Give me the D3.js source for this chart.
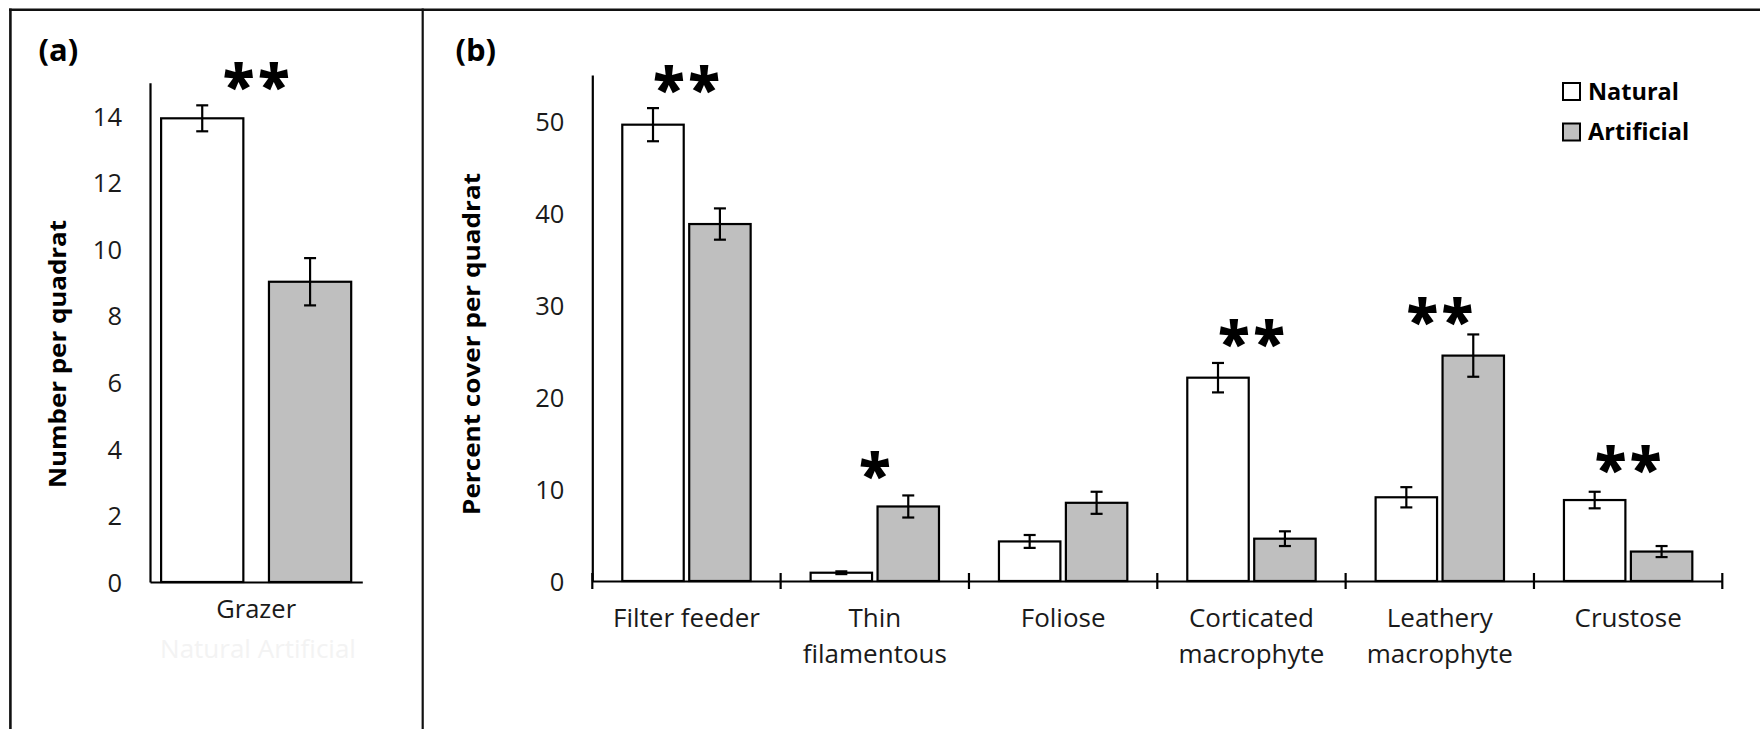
<!DOCTYPE html>
<html><head><meta charset="utf-8">
<script src="https://cdn.jsdelivr.net/npm/d3@7"></script>
<style>
html,body{margin:0;padding:0;background:#fff;}
svg{display:block;font-family:"Open Sans",sans-serif;}
</style></head><body>
<svg id="chart" width="1760" height="729"></svg>
<script>
// ---------- data ----------
const series = ["Natural", "Artificial"];

// panel (a)
const categoriesA = ["Grazer"];
const naturalA = [13.93];
const naturalErrA = [0.39];
const artificialA = [9.02];
const artificialErrA = [0.71];
const sigA = ["**"];
const sigLevelA = [15.24];
const yTicksA = [0, 2, 4, 6, 8, 10, 12, 14];
const yMaxA = 15;

// panel (b)
const categoriesB = ["Filter feeder", "Thin filamentous", "Foliose", "Corticated macrophyte", "Leathery macrophyte", "Crustose"];
const labelLinesB = [["Filter feeder"], ["Thin", "filamentous"], ["Foliose"], ["Corticated", "macrophyte"], ["Leathery", "macrophyte"], ["Crustose"]];
const naturalB = [49.6, 0.9, 4.3, 22.1, 9.1, 8.8];
const naturalErrB = [1.8, 0.15, 0.7, 1.6, 1.1, 0.9];
const artificialB = [38.8, 8.1, 8.5, 4.6, 24.5, 3.2];
const artificialErrB = [1.7, 1.2, 1.2, 0.8, 2.3, 0.6];
const sigB = ["**", "*", "", "**", "**", "**"];
const sigLevelB = [54.7, 12.66, null, 27.1, 29.4, 13.4];
const yTicksB = [0, 10, 20, 30, 40, 50];
const yMaxB = 55;

// ---------- styles ----------
const fills = {Natural: "#ffffff", Artificial: "#bfbfbf"};
const ink = "#000";

const svg = d3.select("#chart");
svg.append("rect").attr("width", 1760).attr("height", 729).attr("fill", "#fff");

// frame
const frame = svg.append("g").attr("stroke", "#111").attr("fill", "none");
frame.append("line").attr("x1", 9).attr("x2", 1760).attr("y1", 9.8).attr("y2", 9.8).attr("stroke-width", 2.6);
frame.append("line").attr("x1", 10.4).attr("x2", 10.4).attr("y1", 8.5).attr("y2", 729).attr("stroke-width", 2.6);
frame.append("line").attr("x1", 422.7).attr("x2", 422.7).attr("y1", 8.5).attr("y2", 729).attr("stroke-width", 2.2);

// panel (a) -- faint hidden legend text under the category label
svg.append("text").attr("x", 258).attr("y", 658).attr("text-anchor", "middle")
  .attr("font-size", 26).attr("fill", "#f3f3f3").text(series.join(" "));

function drawPanel(cfg) {
  const g = svg.append("g");
  const x0 = d3.scaleBand().domain(cfg.categories).range([cfg.left, cfg.right]).paddingInner(0).paddingOuter(0);
  const x1 = d3.scaleBand().domain(series).range([0, x0.bandwidth()])
    .paddingInner(cfg.padIn).paddingOuter(cfg.padOut);
  const y = d3.scaleLinear().domain([0, cfg.yMax]).range([cfg.bottom, cfg.top]);

  const rows = cfg.categories.map((c, i) => ({
    cat: c,
    vals: [
      {s: "Natural", v: cfg.natural[i], e: cfg.naturalErr[i]},
      {s: "Artificial", v: cfg.artificial[i], e: cfg.artificialErr[i]}
    ]
  }));

  // y axis
  const yAxis = d3.axisLeft(y).tickValues(cfg.yTicks).tickSize(0).tickPadding(28).tickFormat(d3.format("d"));
  const ya = g.append("g").attr("transform", `translate(${cfg.left},0)`).call(yAxis);
  ya.select(".domain").attr("stroke", ink).attr("stroke-width", 2.2);
  ya.selectAll("text").attr("font-family", "Open Sans").attr("font-size", 25.5).attr("fill", "#1a1a1a").attr("dy", "0.36em");

  // bars
  const groups = g.selectAll("g.cat").data(rows).join("g").attr("class", "cat")
    .attr("transform", d => `translate(${x0(d.cat)},0)`);
  groups.selectAll("rect").data(d => d.vals).join("rect")
    .attr("x", d => x1(d.s)).attr("width", x1.bandwidth())
    .attr("y", d => y(d.v)).attr("height", d => y(0) - y(d.v))
    .attr("fill", d => fills[d.s]).attr("stroke", ink).attr("stroke-width", 2.2);

  // error bars
  const eb = groups.selectAll("g.err").data(d => d.vals).join("g").attr("class", "err")
    .attr("stroke", ink).attr("stroke-width", 2.2);
  const cx = d => x1(d.s) + x1.bandwidth() / 2;
  eb.append("line").attr("x1", cx).attr("x2", cx)
    .attr("y1", d => y(d.v - d.e)).attr("y2", d => y(d.v + d.e));
  eb.append("line").attr("x1", d => cx(d) - 6).attr("x2", d => cx(d) + 6)
    .attr("y1", d => y(d.v + d.e)).attr("y2", d => y(d.v + d.e));
  eb.append("line").attr("x1", d => cx(d) - 6).attr("x2", d => cx(d) + 6)
    .attr("y1", d => y(d.v - d.e)).attr("y2", d => y(d.v - d.e));

  // x axis
  const xAxis = d3.axisBottom(x0).tickSize(0).tickFormat("");
  const xa = g.append("g").attr("transform", `translate(0,${y(0)})`).call(xAxis);
  xa.select(".domain").attr("stroke", ink).attr("stroke-width", 2.2);
  if (cfg.crossTicks) {
    const bounds = cfg.categories.map(c => x0(c)).concat([x0(cfg.categories[cfg.categories.length - 1]) + x0.bandwidth()]);
    xa.selectAll("line.bound").data(bounds).join("line").attr("class", "bound")
      .attr("x1", d => d).attr("x2", d => d).attr("y1", -8).attr("y2", 8)
      .attr("stroke", ink).attr("stroke-width", 2.2);
  }

  // category labels
  const lab = g.selectAll("text.catlab").data(cfg.categories).join("text").attr("class", "catlab")
    .attr("x", c => x0(c) + x0.bandwidth() / 2).attr("y", cfg.labelBaseline)
    .attr("text-anchor", "middle").attr("font-size", cfg.labelSize).attr("fill", "#1a1a1a");
  lab.selectAll("tspan").data((c, i) => cfg.labelLines[i]).join("tspan")
    .attr("x", function() { return d3.select(this.parentNode).attr("x"); })
    .attr("dy", (d, j) => j === 0 ? 0 : cfg.lineGap).text(d => d);

  // significance stars
  const starSize = 58, ls = 4;
  g.selectAll("text.sig").data(cfg.categories.map((c, i) => ({c, s: cfg.sig[i], lv: cfg.sigLevel[i]})).filter(d => d.s))
    .join("text").attr("class", "sig")
    .attr("x", d => x0(d.c) + x0.bandwidth() / 2 + (d.s.length > 1 ? ls / 2 : 0))
    .attr("y", d => y(d.lv) + starSize * 0.55)
    .attr("text-anchor", "middle").attr("font-weight", 800).attr("font-size", starSize)
    .attr("letter-spacing", d => d.s.length > 1 ? ls : 0)
    .attr("fill", ink).text(d => d.s);

  // y title
  g.append("text").attr("transform", `translate(${cfg.titleX},${cfg.titleY}) rotate(-90)`)
    .attr("text-anchor", "middle").attr("font-weight", 700).attr("font-size", 24)
    .attr("textLength", cfg.titleLen).attr("lengthAdjust", "spacingAndGlyphs")
    .attr("fill", ink).text(cfg.title);

  return {x0, x1, y, g};
}

drawPanel({
  categories: categoriesA, labelLines: [["Grazer"]],
  natural: naturalA, naturalErr: naturalErrA, artificial: artificialA, artificialErr: artificialErrA,
  sig: sigA, sigLevel: sigLevelA, yTicks: yTicksA, yMax: yMaxA,
  left: 150, right: 362.3, top: 82.7, bottom: 582,
  padIn: 0.2375, padOut: 0.103, crossTicks: false,
  labelBaseline: 618, labelSize: 25.5, lineGap: 36,
  title: "Number per quadrat", titleX: 66, titleY: 354, titleLen: 268
});

drawPanel({
  categories: categoriesB, labelLines: labelLinesB,
  natural: naturalB, naturalErr: naturalErrB, artificial: artificialB, artificialErr: artificialErrB,
  sig: sigB, sigLevel: sigLevelB, yTicks: yTicksB, yMax: yMaxB,
  left: 592.3, right: 1722.3, top: 75, bottom: 581,
  padIn: 0.082, padOut: 0.448, crossTicks: true,
  labelBaseline: 627, labelSize: 26, lineGap: 36,
  title: "Percent cover per quadrat", titleX: 480, titleY: 344, titleLen: 342
});

// panel letters
svg.append("text").attr("x", 38.5).attr("y", 61).attr("font-weight", 700).attr("font-size", 31).attr("fill", ink).text("(a)");
svg.append("text").attr("x", 455.5).attr("y", 61).attr("font-weight", 700).attr("font-size", 31).attr("fill", ink).text("(b)");

// legend
const leg = svg.append("g").selectAll("g").data(series).join("g")
  .attr("transform", (d, i) => `translate(1563,${83 + i * 40.5})`);
leg.append("rect").attr("width", 17).attr("height", 17)
  .attr("fill", d => fills[d]).attr("stroke", ink).attr("stroke-width", 2);
leg.append("text").attr("x", 25).attr("y", 16.5).attr("font-weight", 700).attr("font-size", 23.5)
  .attr("fill", ink).text(d => d);
</script>
</body></html>
